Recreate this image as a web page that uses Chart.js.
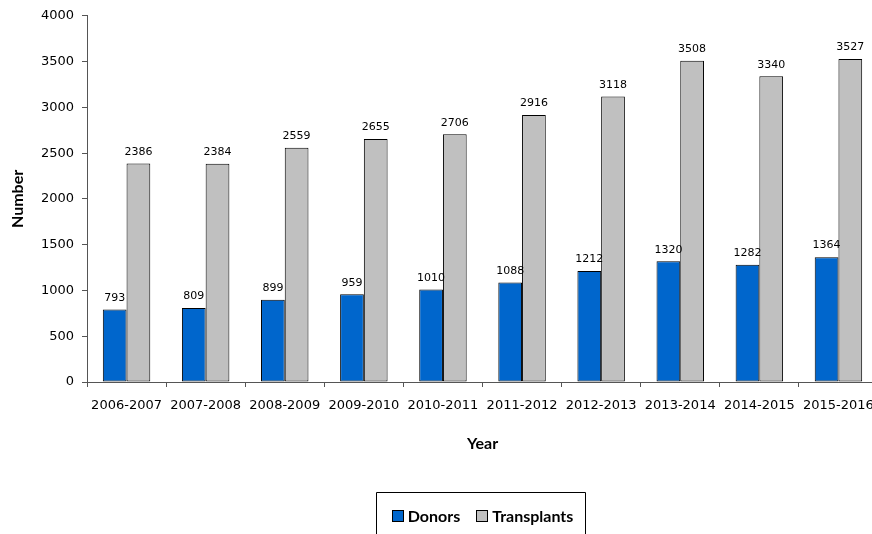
<!DOCTYPE html>
<html>
<head>
<meta charset="utf-8">
<script src="https://cdn.jsdelivr.net/npm/chart.js@4/dist/chart.umd.min.js"></script>
<style>
html,body{margin:0;padding:0;background:#fff;overflow:hidden;width:872px;height:534px;}
#wrap{width:880px;height:534px;position:absolute;left:0;top:0;}
canvas{display:block;}
</style>
</head>
<body>
<div id="wrap"><canvas id="c" width="880" height="534"></canvas></div>
<script>
const years = ['2006-2007','2007-2008','2008-2009','2009-2010','2010-2011','2011-2012','2012-2013','2013-2014','2014-2015','2015-2016'];
const donors = [793, 809, 899, 959, 1010, 1088, 1212, 1320, 1282, 1364];
const transplants = [2386, 2384, 2559, 2655, 2706, 2916, 3118, 3508, 3340, 3527];
const seriesNames = ['Donors', 'Transplants'];
const seriesColors = ['#0066CC', '#C0C0C0'];

const tickFont = {family: "'DejaVu Sans', Verdana, sans-serif", size: 13};
const titleFamily = "Lato, 'Open Sans', sans-serif";

const labelPlugin = {
  id: 'valueLabels',
  afterDatasetsDraw(chart) {
    const ctx = chart.ctx;
    ctx.save();
    ctx.font = "11px 'DejaVu Sans', Verdana, sans-serif";
    ctx.fillStyle = '#000';
    ctx.textAlign = 'center';
    ctx.textBaseline = 'bottom';
    chart.data.datasets.forEach((ds, i) => {
      const meta = chart.getDatasetMeta(i);
      meta.data.forEach((bar, j) => {
        ctx.fillText(String(ds.data[j]), bar.x, bar.y - 6);
      });
    });
    ctx.restore();
  }
};

const legendPlugin = {
  id: 'boxLegend',
  afterDraw(chart) {
    const ctx = chart.ctx;
    const ca = chart.chartArea;
    ctx.save();
    ctx.font = "bold 16px " + titleFamily;
    const box = 11, gapBox = 5, gapItem = 16, padL = 16, padR = 12;
    const widths = seriesNames.map(n => box + gapBox + ctx.measureText(n).width);
    const total = widths.reduce((a, b) => a + b, 0) + gapItem * (widths.length - 1);
    const cx = (ca.left + ca.right) / 2;
    const left = cx - total / 2 - padL;
    const right = cx + total / 2 + padR;
    const top = 492.5;
    ctx.strokeStyle = '#000';
    ctx.lineWidth = 1;
    ctx.beginPath();
    ctx.moveTo(Math.round(left) + 0.5, 540);
    ctx.lineTo(Math.round(left) + 0.5, top);
    ctx.lineTo(Math.round(right) + 0.5, top);
    ctx.lineTo(Math.round(right) + 0.5, 540);
    ctx.stroke();
    let x = cx - total / 2;
    const y = 516;
    ctx.textBaseline = 'middle';
    ctx.textAlign = 'left';
    seriesNames.forEach((n, i) => {
      ctx.fillStyle = seriesColors[i];
      ctx.fillRect(Math.round(x) + 0.5, y - 5.5, box, box);
      ctx.strokeStyle = '#000';
      ctx.strokeRect(Math.round(x) + 0.5, y - 5.5, box, box);
      ctx.fillStyle = '#000';
      ctx.fillText(n, x + box + gapBox, y + 1);
      x += widths[i] + gapItem;
    });
    ctx.restore();
  }
};

new Chart(document.getElementById('c'), {
  type: 'bar',
  data: {
    labels: years,
    datasets: [
      {label: seriesNames[0], data: donors, backgroundColor: seriesColors[0], borderColor: '#000', borderWidth: 1, borderSkipped: false},
      {label: seriesNames[1], data: transplants, backgroundColor: seriesColors[1], borderColor: '#000', borderWidth: 1, borderSkipped: false}
    ]
  },
  options: {
    responsive: false,
    maintainAspectRatio: false,
    animation: false,
    devicePixelRatio: 1,
    layout: {padding: {top: 13, right: 2, bottom: 0, left: 0}},
    datasets: {bar: {categoryPercentage: 0.6, barPercentage: 1.0}},
    plugins: {legend: {display: false}, tooltip: {enabled: false}},
    scales: {
      x: {
        grid: {display: true, drawOnChartArea: false, drawTicks: true, tickLength: 5, color: '#555', offset: true},
        border: {display: true, color: '#555', width: 1},
        ticks: {font: tickFont, color: '#000', padding: 11, maxRotation: 0, autoSkip: false},
        title: {display: true, text: 'Year', color: '#000', font: {family: titleFamily, size: 16, weight: 'bold'}, padding: {top: 4, bottom: 81}},
        afterFit(scale) { scale.height = 152; scale.paddingRight = 0; scale.paddingLeft = 0; }
      },
      y: {
        min: 0, max: 4000,
        grid: {display: true, drawOnChartArea: false, drawTicks: true, tickLength: 5, color: '#555'},
        border: {display: true, color: '#555', width: 1},
        ticks: {stepSize: 500, font: tickFont, color: '#000', padding: 8, callback: (v) => String(v)},
        title: {display: true, text: 'Number', color: '#000', font: {family: titleFamily, size: 16, weight: 'bold'}, padding: {top: 8, bottom: 4}},
        afterFit(scale) { scale.width = 87; }
      }
    }
  },
  plugins: [labelPlugin, legendPlugin]
});
</script>
</body>
</html>
